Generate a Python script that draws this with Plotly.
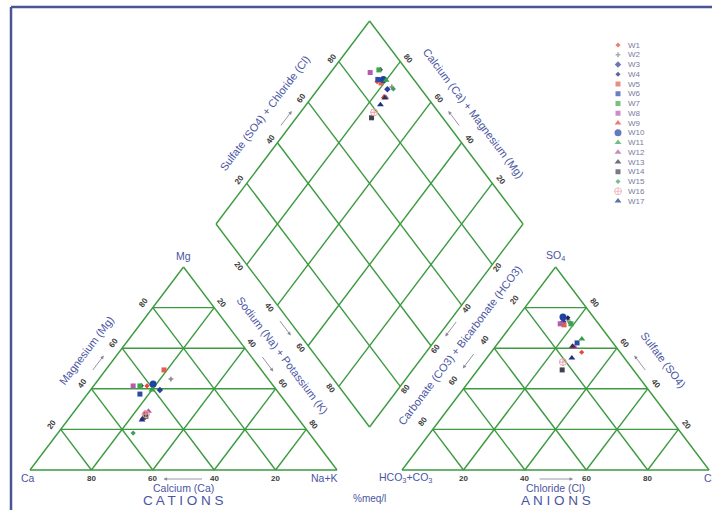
import numpy as np
import plotly.graph_objects as go

# ---------------- data (% meq/l) ----------------
wells = ["W1", "W2", "W3", "W4", "W5", "W6", "W7", "W8", "W9", "W10",
         "W11", "W12", "W13", "W14", "W15", "W16", "W17"]
cat_ca = [41.2, 31.7, 38.0, 43.0, 31.7, 45.5, 43.5, 45.7, 48.5, 38.7,
          40.6, 46.9, 50.5, 49.0, 57.3, 48.5, 51.2]
cat_mg = [41.4, 44.8, 39.4, 41.5, 49.3, 37.4, 41.4, 41.4, 28.1, 42.4,
          39.4, 29.0, 25.5, 26.5, 18.2, 27.5, 24.6]
cat_nak = [17.4, 23.5, 22.6, 15.5, 19.0, 17.1, 15.1, 12.9, 23.4, 18.9,
           20.0, 24.1, 24.0, 24.5, 24.5, 24.0, 24.2]
an_hco3 = [12.5, 9.0, 11.0, 8.5, 11.5, 11.7, 9.0, 12.5, 13.9, 9.9,
           9.2, 13.5, 14.0, 23.2, 9.0, 21.0, 17.1]
an_so4 = [58.0, 74.0, 73.0, 75.0, 71.5, 62.6, 72.0, 72.0, 60.6, 75.4,
          64.5, 60.5, 61.0, 49.3, 72.5, 53.2, 55.2]
an_cl = [29.5, 17.0, 16.0, 16.5, 17.0, 25.7, 19.0, 15.5, 25.5, 14.7,
         26.3, 26.0, 25.0, 27.5, 18.5, 25.8, 27.7]
tick_vals = [20, 40, 60, 80]

symbols = ["diamond", "cross", "diamond", "diamond", "square", "square", "square",
           "square", "triangle-up", "circle", "triangle-up", "triangle-up",
           "triangle-up", "square", "diamond", "circle-cross-open", "triangle-up"]
colors = ["#e8483a", "#8a8a8a", "#2a3f9a", "#1c2466", "#e0604e", "#2b4ba6", "#3da648",
          "#b25cb0", "#e2473e", "#1f43a3", "#35a247", "#a95aa8", "#2f3147", "#3f4250",
          "#3f9f5f", "#e6a3a8", "#1e2f8a"]
sizes = [4, 4, 5, 4, 5, 5, 5, 5, 6, 7, 6, 6, 6, 5, 4, 7, 6]

# ---------------- geometry ----------------
FW, FH = 712, 510
SX, SY = 3.07, 2.344      # px per unit
X0, Y0 = 30, 470          # px position of Ca vertex
H = np.sqrt(3) / 2
OX = 121.2                # x offset of anion triangle
GREEN = "#3c9a40"
BLUE = "#4a55a2"
TICK = "#3c3c3c"
FONT = "Liberation Sans, Arial, sans-serif"


def cat_xy(ca, mg, nak):
    ca, mg, nak = (np.asarray(v, float) for v in (ca, mg, nak))
    t = ca + mg + nak
    return 100 * (nak + mg / 2) / t, 100 * mg * H / t


def an_xy(hco3, so4, cl):
    hco3, so4, cl = (np.asarray(v, float) for v in (hco3, so4, cl))
    t = hco3 + so4 + cl
    return OX + 100 * (cl + so4 / 2) / t, 100 * so4 * H / t


def dia_xy(nak, s):
    nak, s = np.asarray(nak, float), np.asarray(s, float)
    return (nak + OX + s) / 2, np.sqrt(3) * (OX + s - nak) / 2


fig = go.Figure()

# ---------------- grid ----------------
gx, gy = [], []


def seg(p, q):
    gx.extend([float(p[0]), float(q[0]), None])
    gy.extend([float(p[1]), float(q[1]), None])


for f in (cat_xy, an_xy):
    for v in [0, 20, 40, 60, 80]:
        seg(f(v, 100 - v, 0), f(v, 0, 100 - v))
        seg(f(100 - v, v, 0), f(0, v, 100 - v))
        seg(f(100 - v, 0, v), f(0, 100 - v, v))
for v in [0, 20, 40, 60, 80, 100]:
    seg(dia_xy(v, 0), dia_xy(v, 100))
    seg(dia_xy(0, v), dia_xy(100, v))

fig.add_trace(go.Scatter(x=gx, y=gy, mode="lines", line=dict(color=GREEN, width=1.4),
                         hoverinfo="skip", showlegend=False))

# ---------------- samples ----------------
ca_a, mg_a, na_a = np.array(cat_ca), np.array(cat_mg), np.array(cat_nak)
hc_a, so_a, cl_a = np.array(an_hco3), np.array(an_so4), np.array(an_cl)
cx, cy = cat_xy(ca_a, mg_a, na_a)
axx, axy = an_xy(hc_a, so_a, cl_a)
dx_, dy_ = dia_xy(100 * na_a / (ca_a + mg_a + na_a),
                  100 * (so_a + cl_a) / (hc_a + so_a + cl_a))
for i, w in enumerate(wells):
    fig.add_trace(go.Scatter(
        x=[cx[i], dx_[i], axx[i]], y=[cy[i], dy_[i], axy[i]], mode="markers", name=w,
        marker=dict(symbol=symbols[i], color=colors[i], size=sizes[i],
                    line=dict(width=1 if "open" in symbols[i] else 0, color=colors[i])),
        showlegend=False, xaxis="x", yaxis="y"))

# ---------------- legend (manual, compact) ----------------
leg_y = list(range(len(wells)))
fig.add_trace(go.Scatter(
    x=[618] * len(wells), y=leg_y, mode="markers", xaxis="x2", yaxis="y2",
    marker=dict(symbol=symbols, color=colors, size=sizes,
                line=dict(width=[1 if "open" in s else 0 for s in symbols], color=colors)),
    hoverinfo="skip", showlegend=False))

ann = []
for i, w in enumerate(wells):
    ann.append(dict(x=626, y=leg_y[i], xref="x2", yref="y2", text=w, showarrow=False,
                    xanchor="left", yanchor="middle",
                    font=dict(size=8, color="#7a7a9e", family=FONT)))


# ---------------- axis ticks, titles, arrows ----------------
def ticks(pfun, ox, oy, angle):
    for v in tick_vals:
        x, y = pfun(v)
        ann.append(dict(x=float(x), y=float(y), xref="x", yref="y", text="<b>%d</b>" % v,
                        showarrow=False, xshift=ox, yshift=-oy, textangle=angle,
                        font=dict(size=8, color=TICK, family=FONT)))


def arrow(pfun, ox, oy, L=20):
    x4, y4 = pfun(40)
    x6, y6 = pfun(60)
    xm, ym = pfun(50)
    ddx, ddy = (x6 - x4) * SX, -(y6 - y4) * SY
    n = np.hypot(ddx, ddy)
    ux, uy = ddx / n, ddy / n
    ann.append(dict(x=float(xm), y=float(ym), xref="x", yref="y", text="",
                    showarrow=True, xshift=ox + L / 2 * ux, yshift=-(oy + L / 2 * uy),
                    ax=-L * ux, ay=-L * uy, arrowcolor="#8a8a9a", arrowwidth=0.9,
                    arrowhead=2, arrowsize=0.8))


def title(p, text, ox, oy, angle, size=11):
    ann.append(dict(x=float(p[0]), y=float(p[1]), xref="x", yref="y", text=text,
                    showarrow=False, xshift=ox, yshift=-oy, textangle=angle,
                    font=dict(size=size, color=BLUE, family=FONT)))


ANG = float(np.degrees(np.arctan2(86.6 * SY, 50 * SX)))

# cation triangle
f_ca = lambda v: cat_xy(v, 0, 100 - v)
f_mg = lambda v: cat_xy(100 - v, v, 0)
f_na = lambda v: cat_xy(0, 100 - v, v)
ticks(f_ca, 0, 8, 0)
ticks(f_mg, -9, -5, -ANG)
ticks(f_na, 7, -5, ANG)
arrow(f_ca, 0, 9, 40)
arrow(f_mg, -9, -5)
arrow(f_na, 7, -5)

# diamond
f_dul = lambda v: dia_xy(0, v)
f_dur = lambda v: dia_xy(100 - v, 100)
f_dll = lambda v: dia_xy(v, 0)
f_dlr = lambda v: dia_xy(100, 100 - v)
ticks(f_dul, -7, -3.5, -ANG)
ticks(f_dur, 8, -3.5, ANG)
ticks(f_dll, -8, 2, ANG)
ticks(f_dlr, 5, 3, -ANG)
arrow(f_dul, -7, -3.5)
arrow(f_dur, 8, -3.5)
arrow(f_dll, -8, 2)
arrow(f_dlr, 5, 3)

# anion triangle
f_cl = lambda v: an_xy(100 - v, 0, v)
f_hc = lambda v: an_xy(v, 100 - v, 0)
f_so = lambda v: an_xy(0, v, 100 - v)
ticks(f_cl, 0, 8, 0)
ticks(f_hc, -10, -8, -ANG)
ticks(f_so, 8, -5, ANG)
arrow(f_cl, 0, 9, 35)
arrow(f_hc, -10, -8)
arrow(f_so, 8, -5)

# titles
title(cat_xy(50, 50, 0), "Magnesium (Mg)", -20, -18.5, -ANG)
title(cat_xy(0, 50, 50), "Sodium (Na) + Potassium (K)", 22, -13.5, ANG)
title(dia_xy(0, 50), "Sulfate (SO4) + Chloride (Cl)", -28, -9.6, -ANG)
title(dia_xy(50, 100), "Calcium (Ca) + Magnesium (Mg)", 27, -9.6, ANG)
title(dia_xy(100, 50), "Carbonate (CO3) + Bicarbonate (HCO3)", 14, 20, -ANG)
title(an_xy(0, 50, 50), "Sulfate (SO4)", 31, -8.5, ANG)
title(cat_xy(50, 0, 50), "Calcium (Ca)", 0, 18, 0, 10.5)
title(an_xy(50, 0, 50), "Chloride (Cl)", 0, 18, 0, 10.5)
title(cat_xy(50, 0, 50), "C A T I O N S", 0, 30, 0, 13.5)
title(an_xy(50, 0, 50), "A N I O N S", 0, 30, 0, 13.5)
title(((100 + OX) / 2, 0), "%meq/l", 0, 28, 0, 10)

# vertex labels
title(cat_xy(100, 0, 0), "Ca", -2, 8, 0, 10.5)
title(cat_xy(0, 0, 100), "Na+K", -13, 8, 0, 10.5)
title(cat_xy(0, 100, 0), "Mg", 0, -11, 0, 10.5)
title(an_xy(0, 100, 0), "SO<sub>4</sub>", 0, -11, 0, 10.5)
title(an_xy(100, 0, 0), "HCO<sub>3</sub>+CO<sub>3</sub>", 3, 8, 0, 10.5)
ann.append(dict(x=float(an_xy(0, 0, 100)[0]), y=0, xref="x", yref="y", text="Cl",
                showarrow=False, xanchor="left", xshift=-7, yshift=-8,
                font=dict(size=10.5, color=BLUE, family=FONT)))

# ---------------- layout ----------------
fig.update_layout(
    width=FW, height=FH, margin=dict(l=0, r=0, t=0, b=0),
    paper_bgcolor="white", plot_bgcolor="rgba(0,0,0,0)", showlegend=False,
    xaxis=dict(range=[-X0 / SX, (FW - X0) / SX], visible=False, domain=[0, 1]),
    yaxis=dict(range=[-(FH - Y0) / SY, Y0 / SY], visible=False, domain=[0, 1]),
    xaxis2=dict(range=[0, FW], visible=False, anchor="y2", overlaying="x"),
    yaxis2=dict(range=[(FH - 45) / 9.75, -45 / 9.75], visible=False,
                anchor="x2", overlaying="y"),
    annotations=ann,
    shapes=[
        dict(type="line", xref="paper", yref="paper", x0=11 / FW, x1=11 / FW,
             y0=0, y1=1 - 7 / FH, line=dict(color="#4b5596", width=2.5)),
        dict(type="line", xref="paper", yref="paper", x0=11 / FW, x1=1,
             y0=1 - 7 / FH, y1=1 - 7 / FH, line=dict(color="#4b5596", width=2.5)),
    ],
)

fig.write_html("out.html", config={"displayModeBar": False},
               post_script="document.body.style.margin='0px';")
